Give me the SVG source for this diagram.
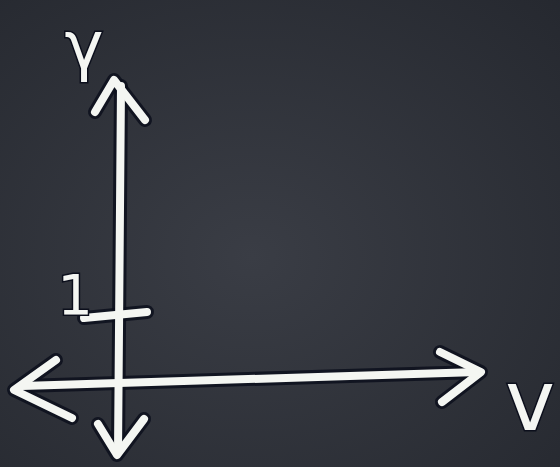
<svg xmlns="http://www.w3.org/2000/svg" width="560" height="467" viewBox="0 0 560 467">
  <defs>
    <radialGradient id="bg" cx="0.45" cy="0.55" r="0.8">
      <stop offset="0" stop-color="#3a3d45"/>
      <stop offset="1" stop-color="#25282f"/>
    </radialGradient>
    <style>
      .halo { fill: none; stroke: #0c0f1c; stroke-width: 14; stroke-linecap: round; stroke-linejoin: round; opacity: 0.85; }
      .chalk { fill: none; stroke: #f4f6f2; stroke-width: 8; stroke-linecap: round; stroke-linejoin: round; }
      .lbl { font-family: "DejaVu Sans", "Liberation Sans", sans-serif; fill: #f4f6f2; stroke: #0c0f1c; stroke-width: 3; paint-order: stroke; }
    </style>
  </defs>
  <rect width="560" height="467" fill="url(#bg)"/>
  <g id="connectors">
    <path id="y-axis-shaft" class="halo" d="M121 86 L118 452"/>
    <path class="halo" d="M95 112 L114 80 L145 120"/>
    <path class="halo" d="M98 424 L117 455 L144 419"/>
    <path class="halo" d="M22 386 L478 372"/>
    <path class="halo" d="M56 360 L14 390 L72 418"/>
    <path class="halo" d="M440 352 L481 372 L442 402"/>
    <path class="halo" d="M84 318 L147 312"/>
    <path class="chalk" d="M121 86 L118 452"/>
    <path class="chalk" d="M95 112 L114 80 L145 120"/>
    <path class="chalk" d="M98 424 L117 455 L144 419"/>
    <path class="chalk" d="M22 386 L478 372"/>
    <path class="chalk" d="M56 360 L14 390 L72 418"/>
    <path class="chalk" d="M440 352 L481 372 L442 402"/>
    <path class="chalk" d="M84 318 L147 312"/>
  </g>
  <g id="label-gamma">
    <text class="lbl" x="84" y="68" font-size="66" text-anchor="middle">γ</text>
  </g>
  <g id="label-one">
    <text class="lbl" x="75" y="314" font-size="56" text-anchor="middle">1</text>
  </g>
  <g id="label-v">
    <text class="lbl" x="530" y="430" font-size="84" text-anchor="middle">v</text>
  </g>
</svg>
